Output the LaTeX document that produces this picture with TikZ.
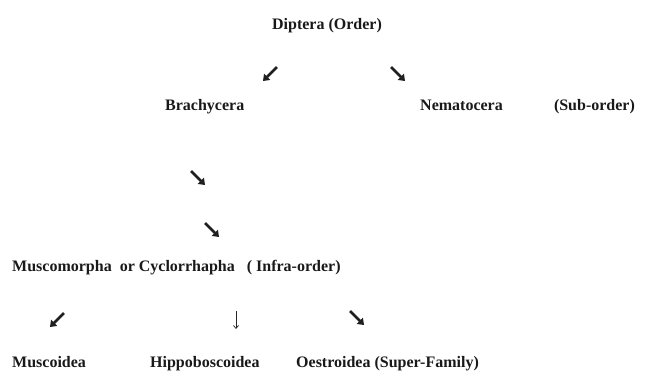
\documentclass[tikz,border=0pt]{standalone}
\usepackage{fontspec}
\setmainfont{Liberation Serif}
\usetikzlibrary{arrows.meta}
\begin{document}
\begin{tikzpicture}[x=1pt,y=-1pt,
  lbl/.style={anchor=base west,inner sep=0pt,font=\bfseries\fontsize{16}{19}\selectfont,text=black!90},
  bolddiag/.style={line width=2.6pt,black!88,-{Triangle[length=6pt,width=8.5pt]}},
  thindown/.style={line width=0.7pt,black!85,-{Straight Barb[length=3pt,width=5pt]}}]
\useasboundingbox (0,0) rectangle (654,381);
\node[lbl,anchor=base] (dip) at (327,29) {Diptera (Order)};
\node[lbl] (bra) at (165,110) {Brachycera};
\node[lbl] (nem) at (420,110) {Nematocera\hspace{3.2em}(Sub-order)};
\node[lbl] (mus) at (12,271) {Muscomorpha\hspace{0.5em}or Cyclorrhapha\hspace{0.75em}(\hspace{0.25em}Infra-order)};
\node[lbl] (msc) at (12,367) {Muscoidea};
\node[lbl] (hip) at (150,367) {Hippoboscoidea};
\node[lbl] (oes) at (296,367) {Oestroidea (Super-Family)};
% arrow glyph end points
\coordinate (a1s) at (277,67); \coordinate (a1e) at (263,81);
\coordinate (a2s) at (391,67); \coordinate (a2e) at (405,81);
\coordinate (a3s) at (191,171); \coordinate (a3e) at (205,185);
\coordinate (a4s) at (205,223); \coordinate (a4e) at (219,237);
\coordinate (a5s) at (64,313); \coordinate (a5e) at (50,327);
\coordinate (a6s) at (236,311); \coordinate (a6e) at (236,329);
\coordinate (a7s) at (350,311); \coordinate (a7e) at (364,325);
\draw[bolddiag] (a1s) -- (a1e);
\draw[bolddiag] (a2s) -- (a2e);
\draw[bolddiag] (a3s) -- (a3e);
\draw[bolddiag] (a4s) -- (a4e);
\draw[bolddiag] (a5s) -- (a5e);
\draw[thindown] (a6s) -- (a6e);
\draw[bolddiag] (a7s) -- (a7e);
\end{tikzpicture}
\end{document}
